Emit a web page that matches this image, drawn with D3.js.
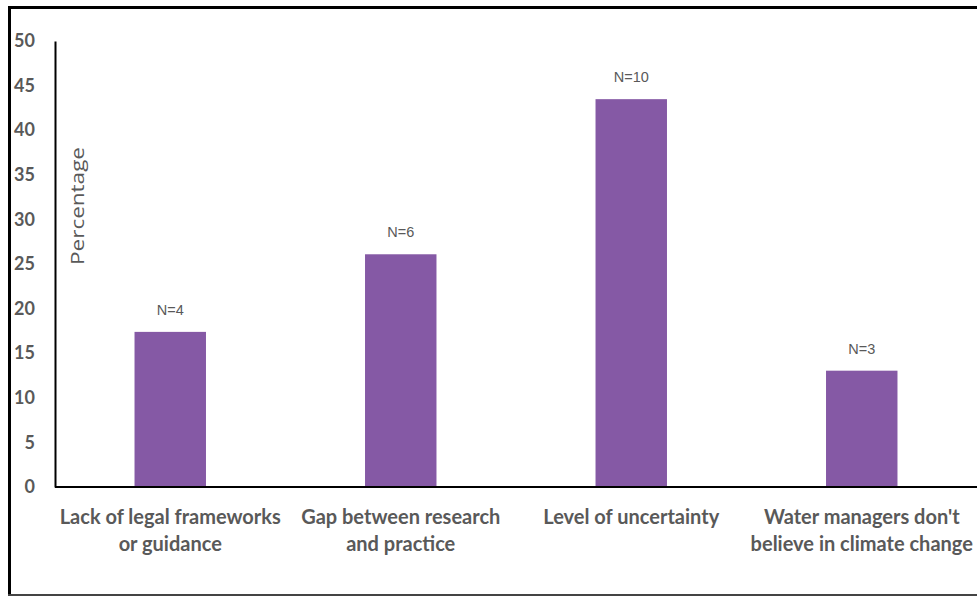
<!DOCTYPE html>
<html>
<head>
<meta charset="utf-8">
<script src="https://cdn.jsdelivr.net/npm/d3@7"></script>
<style>
  body { margin: 0; background: #fff; }
  svg { display: block; }
</style>
</head>
<body>
<div id="chart"></div>
<script>
// data
var categories = [
  ["Lack of legal frameworks", "or guidance"],
  ["Gap between research", "and practice"],
  ["Level of uncertainty"],
  ["Water managers don't", "believe in climate change"]
];
var counts = [4, 6, 10, 3];
var percentages = [17.39, 26.09, 43.48, 13.04];
var yTicks = [0, 5, 10, 15, 20, 25, 30, 35, 40, 45, 50];

var width = 977, height = 596;
var margin = { top: 41, right: 0, bottom: 109, left: 55 };

var svg = d3.select("#chart")
    .append("svg")
    .attr("width", width)
    .attr("height", height);

// outer frame
svg.append("line").attr("x1", 8).attr("x2", width).attr("y1", 7.5).attr("y2", 7.5)
    .attr("stroke", "#000").attr("stroke-width", 3);
svg.append("line").attr("x1", 9.5).attr("x2", 9.5).attr("y1", 6).attr("y2", height)
    .attr("stroke", "#000").attr("stroke-width", 3);
svg.append("line").attr("x1", 8).attr("x2", width).attr("y1", 595).attr("y2", 595)
    .attr("stroke", "#444").attr("stroke-width", 2);

var x = d3.scaleBand()
    .domain(d3.range(categories.length))
    .range([margin.left, width - margin.right])
    .paddingInner(0.69)
    .paddingOuter(0.345);

var y = d3.scaleLinear()
    .domain([0, 50])
    .range([height - margin.bottom, margin.top]);

// bars
svg.append("g")
    .selectAll("rect")
    .data(percentages)
    .enter()
    .append("rect")
    .attr("x", function (d, i) { return x(i) })
    .attr("y", function (d) { return y(d) })
    .attr("width", x.bandwidth())
    .attr("height", function (d) { return y(0) - y(d) })
    .attr("fill", "#8559a5");

// N labels
svg.append("g")
    .selectAll("text")
    .data(percentages)
    .enter()
    .append("text")
    .attr("x", function (d, i) { return x(i) + x.bandwidth() / 2 })
    .attr("y", function (d) { return y(d) - 17 })
    .attr("text-anchor", "middle")
    .attr("font-family", "Liberation Sans, Arial, sans-serif")
    .attr("font-size", 14.5)
    .attr("fill", "#595959")
    .text(function (d, i) { return "N=" + counts[i] });

// y axis
var yAxis = svg.append("g")
    .attr("transform", "translate(" + margin.left + ",0)")
    .call(d3.axisLeft(y).tickValues(yTicks).tickSize(0).tickPadding(20));
yAxis.select(".domain").attr("stroke", "#000").attr("stroke-width", 2);
yAxis.selectAll("text")
    .attr("font-family", "Lato, sans-serif")
    .attr("font-weight", "bold")
    .attr("font-size", 18)
    .attr("fill", "#595959");

// x axis baseline
svg.append("line")
    .attr("x1", margin.left).attr("x2", width)
    .attr("y1", y(0)).attr("y2", y(0))
    .attr("stroke", "#000").attr("stroke-width", 2);

// category labels
var catLabels = svg.append("g")
    .selectAll("text")
    .data(categories)
    .enter()
    .append("text")
    .attr("text-anchor", "middle")
    .attr("font-family", "Lato, sans-serif")
    .attr("font-weight", "bold")
    .attr("font-size", 20)
    .attr("fill", "#595959");
catLabels.selectAll("tspan")
    .data(function (d, i) { return d.map(function (t) { return { t: t, i: i } }) })
    .enter()
    .append("tspan")
    .attr("x", function (d) { return x(d.i) + x.bandwidth() / 2 })
    .attr("y", function (d, j) { return 524 + j * 27 })
    .text(function (d) { return d.t });

// y axis title
svg.append("text")
    .attr("transform", "translate(84,206) rotate(-90)")
    .attr("text-anchor", "middle")
    .attr("font-family", "Open Sans, sans-serif")
    .attr("font-size", 19)
    .attr("textLength", 118)
    .attr("lengthAdjust", "spacingAndGlyphs")
    .attr("fill", "#595959")
    .text("Percentage");
</script>
</body>
</html>
